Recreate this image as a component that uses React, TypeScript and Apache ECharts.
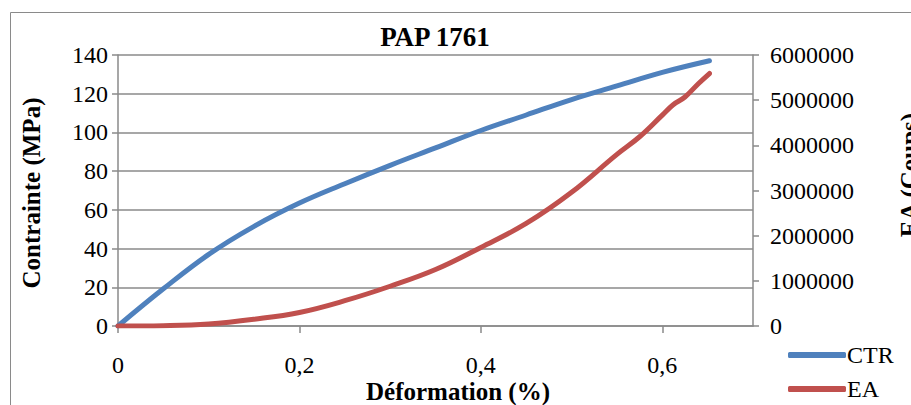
import React, { useEffect, useRef } from "react";
import * as echarts from "echarts";

const chartTitle = "PAP 1761";
const xTitle = "Déformation (%)";
const leftTitle = "Contrainte (MPa)";
const rightTitle = "EA (Coups)";
const seriesNames = ["CTR", "EA"];

const ctrStrain = [0, 0.05, 0.1, 0.15, 0.2, 0.25, 0.3, 0.35, 0.4, 0.45, 0.5, 0.55, 0.6, 0.652];
const ctrStress = [0, 19.2, 37, 51.5, 63.5, 73.5, 83, 92, 101, 109, 117, 124, 131, 137];

const eaStrain = [0, 0.05, 0.1, 0.15, 0.2, 0.25, 0.3, 0.35, 0.4, 0.45, 0.5, 0.55, 0.575, 0.6, 0.612, 0.625, 0.64, 0.652];
const eaValues = [0, 8000, 45000, 150000, 300000, 560000, 880000, 1250000, 1740000, 2270000, 2960000, 3800000, 4190000, 4670000, 4900000, 5070000, 5370000, 5590000];

const FONT = "'Liberation Serif', 'Times New Roman', serif";
const GRAY = "#8a8a8a";
const BLUE = "#4F81BD";
const RED = "#C0504D";

export default function App() {
  const ref = useRef<HTMLDivElement>(null);
  useEffect(() => {
    if (!ref.current) return;
    const chart = echarts.init(ref.current, undefined, { renderer: "svg" });
    const ctrData = ctrStrain.map((x, i) => [x, ctrStress[i]]);
    const eaData = eaStrain.map((x, i) => [x, eaValues[i]]);
    chart.setOption({
      animation: false,
      backgroundColor: "#ffffff",
      grid: { left: 118, right: 158, top: 55, bottom: 79, containLabel: false },
      legend: {
        orient: "vertical",
        left: 788,
        top: 343,
        padding: 0,
        width: 120,
        height: 70,
        itemWidth: 58,
        itemHeight: 6,
        itemGap: 10,
        icon: "roundRect",
        data: seriesNames,
        textStyle: { fontFamily: FONT, fontSize: 24, color: "#000", padding: [0, 0, 0, -4] },
      },
      xAxis: {
        type: "value",
        min: 0,
        max: 0.7,
        interval: 0.2,
        axisLine: { show: true, lineStyle: { color: GRAY, width: 1.5 } },
        axisTick: { show: true, length: 7, lineStyle: { color: GRAY, width: 1.5 } },
        splitLine: { show: false },
        axisLabel: {
          margin: 27,
          showMaxLabel: false,
          fontFamily: FONT,
          fontSize: 24,
          color: "#000",
          formatter: (v: number) => String(Math.round(v * 10) / 10).replace(".", ","),
        },
      },
      yAxis: [
        {
          type: "value",
          min: 0,
          max: 140,
          interval: 20,
          axisLine: { show: true, lineStyle: { color: GRAY, width: 1.5 } },
          axisTick: { show: true, length: 6, lineStyle: { color: GRAY, width: 1.5 } },
          splitLine: { show: true, lineStyle: { color: GRAY, width: 1.5 } },
          axisLabel: { margin: 10, fontFamily: FONT, fontSize: 24, color: "#000" },
        },
        {
          type: "value",
          min: 0,
          max: 6000000,
          interval: 1000000,
          position: "right",
          axisLine: { show: true, lineStyle: { color: GRAY, width: 1.5 } },
          axisTick: { show: true, length: 6, lineStyle: { color: GRAY, width: 1.5 } },
          splitLine: { show: false },
          axisLabel: {
            margin: 17,
            fontFamily: FONT,
            fontSize: 24,
            color: "#000",
            formatter: (v: number) => String(Math.round(v)),
          },
        },
      ],
      series: [
        {
          name: seriesNames[0],
          type: "line",
          yAxisIndex: 0,
          data: ctrData,
          smooth: 0.4,
          showSymbol: false,
          symbol: "none",
          lineStyle: { color: BLUE, width: 5, cap: "round" },
          itemStyle: { color: BLUE },
        },
        {
          name: seriesNames[1],
          type: "line",
          yAxisIndex: 1,
          data: eaData,
          smooth: 0.4,
          showSymbol: false,
          symbol: "none",
          lineStyle: { color: RED, width: 5, cap: "round" },
          itemStyle: { color: RED },
        },
      ],
      graphic: [
        {
          type: "rect",
          shape: { x: 10.5, y: 12.5, width: 1000, height: 600 },
          style: { fill: "none", stroke: GRAY, lineWidth: 1 },
          silent: true,
        },
        {
          type: "text",
          x: 435,
          y: 37,
          style: { text: chartTitle, fontFamily: FONT, fontSize: 27, fontWeight: "bold", fill: "#000", align: "center", verticalAlign: "middle" },
        },
        {
          type: "text",
          x: 458,
          y: 391,
          style: { text: xTitle, fontFamily: FONT, fontSize: 25, fontWeight: "bold", fill: "#000", align: "center", verticalAlign: "middle" },
        },
        {
          type: "text",
          x: 31,
          y: 193,
          rotation: Math.PI / 2,
          style: { text: leftTitle, fontFamily: FONT, fontSize: 25, fontWeight: "bold", fill: "#000", align: "center", verticalAlign: "middle" },
        },
        {
          type: "text",
          x: 909,
          y: 175,
          rotation: Math.PI / 2,
          style: { text: rightTitle, fontFamily: FONT, fontSize: 25, fontWeight: "bold", fill: "#000", align: "center", verticalAlign: "middle" },
        },
      ],
    });
    return () => chart.dispose();
  }, []);
  return <div ref={ref} style={{ position: "fixed", left: 0, top: 0, width: 911, height: 405 }} />;
}
